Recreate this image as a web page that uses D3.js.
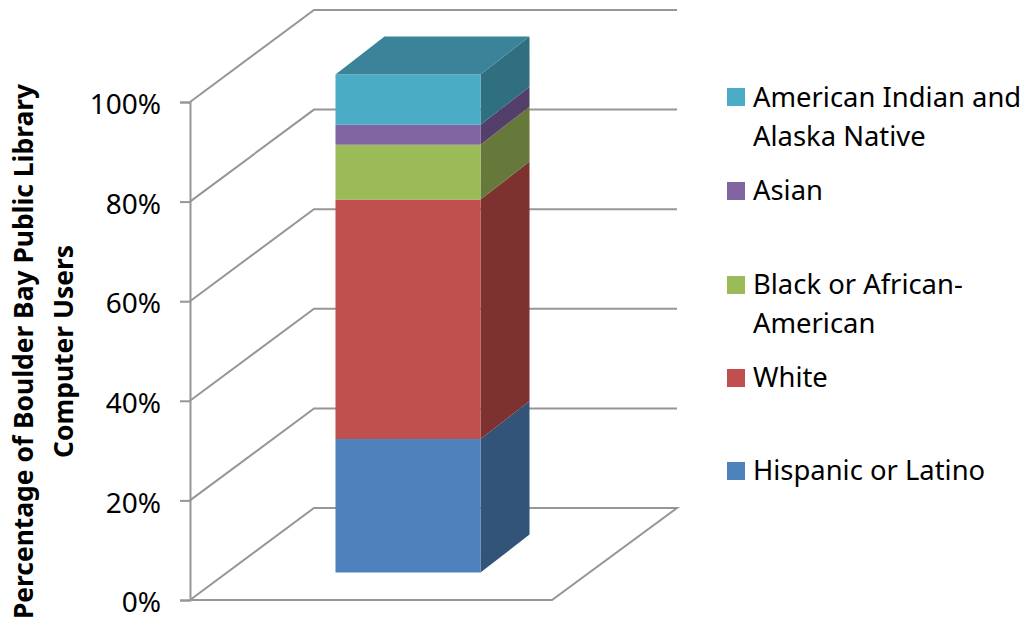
<!DOCTYPE html>
<html><head><meta charset="utf-8">
<script src="https://cdn.jsdelivr.net/npm/d3@7"></script>
<style>
html,body{margin:0;padding:0;background:#fff}
svg{display:block}
text{font-family:"Noto Sans",sans-serif;fill:#000}
</style></head><body><div id="c"></div>
<script>
const categories=["Boulder Bay Public Library"];
const seriesNames=["Hispanic or Latino","White","Black or African-American","Asian","American Indian and Alaska Native"];
const seriesValues=[26.8,48.1,11,4,10.1];
const tickValues=[0,20,40,60,80,100];
const legendLines=[["American Indian and","Alaska Native"],["Asian"],["Black or African-","American"],["White"],["Hispanic or Latino"]];
const legendOrder=[4,3,2,1,0];
const titleLines=["Percentage of Boulder Bay Public Library","Computer Users"];
const frontColors=["#4F81BD","#C0504D","#9BBB59","#8064A2","#4BACC6"];
const sideColors=["#335479","#7D322F","#66793A","#533F6A","#306F80"];
const topColor="#3A8399";

const W=1028,H=625;
const svg=d3.select("#c").append("svg").attr("width",W).attr("height",H);
const grid="#969696";
const y=d3.scaleLinear().domain([0,100]).range([600,102]);
const x0=190,floorW=362,dx=124,dy=92;
const x=d3.scaleBand().domain(categories).range([x0+37,x0+37+floorW]).paddingInner(0).paddingOuter(0.748);
const bx=x(categories[0]), bw=x.bandwidth();
const barLift=27.5, depthX=49, depthY=38;
const line=d3.line();

// floor
svg.append("path").attr("d",line([[x0,y(0)],[x0+floorW,y(0)],[x0+floorW+dx+1,y(0)-dy],[x0+dx,y(0)-dy],[x0,y(0)]]))
  .attr("fill","none").attr("stroke",grid).attr("stroke-width",2);
// walls
svg.append("g").selectAll("path").data(tickValues.slice(1)).join("path")
  .attr("d",d=>line([[x0,y(d)],[x0+dx,y(d)-dy],[x0+floorW+dx+1,y(d)-dy]]))
  .attr("fill","none").attr("stroke",grid).attr("stroke-width",2);
// axis
const axis=svg.append("g").attr("transform",`translate(${x0},0)`)
  .call(d3.axisLeft(y).tickValues(tickValues).tickFormat(d=>d+"%").tickSize(10).tickPadding(19));
axis.selectAll("path,line").attr("stroke",grid).attr("stroke-width",2);
axis.selectAll("text").attr("font-size",28).attr("font-family",'"Noto Sans",sans-serif').attr("fill","#000").attr("dy","0.42em");

// stacked bar
const stack=[];let acc=0;
seriesValues.forEach((v,i)=>{stack.push({i,a:acc,b:acc+v});acc+=v;});
const by=v=>y(v)-barLift;
const bars=svg.append("g");
bars.selectAll("path.side").data(stack).join("path").attr("class","side")
  .attr("d",d=>line([[bx+bw,by(d.a)],[bx+bw+depthX,by(d.a)-depthY],[bx+bw+depthX,by(d.b)-depthY],[bx+bw,by(d.b)]])+"Z")
  .attr("fill",d=>sideColors[d.i]);
bars.selectAll("rect").data(stack).join("rect")
  .attr("x",bx).attr("width",bw).attr("y",d=>by(d.b)).attr("height",d=>by(d.a)-by(d.b))
  .attr("fill",d=>frontColors[d.i]);
bars.append("path").attr("d",line([[bx,by(acc)],[bx+depthX,by(acc)-depthY],[bx+bw+depthX,by(acc)-depthY],[bx+bw,by(acc)]])+"Z").attr("fill",topColor);

// legend
const legendY=[97,191,285,378,471];
const lg=svg.append("g").selectAll("g").data(legendOrder).join("g").attr("transform",(d,i)=>`translate(727,${legendY[i]})`);
lg.append("rect").attr("y",-9).attr("width",18).attr("height",18).attr("fill",d=>frontColors[d]);
lg.each(function(d,i){
  d3.select(this).selectAll("text").data(legendLines[i]).join("text")
    .attr("x",26).attr("y",(t,j)=>(i===0?10:9)+j*39).attr("font-size",27.4).text(t=>t);
});

// title
const ty=svg.append("g").attr("transform","translate(0,351.5) rotate(-90)");
ty.selectAll("text").data(titleLines).join("text")
  .attr("text-anchor","middle").attr("x",0).attr("y",(t,i)=>33+i*40)
  .attr("font-size",26.4).attr("font-weight",700).text(t=>t);
</script></body></html>
